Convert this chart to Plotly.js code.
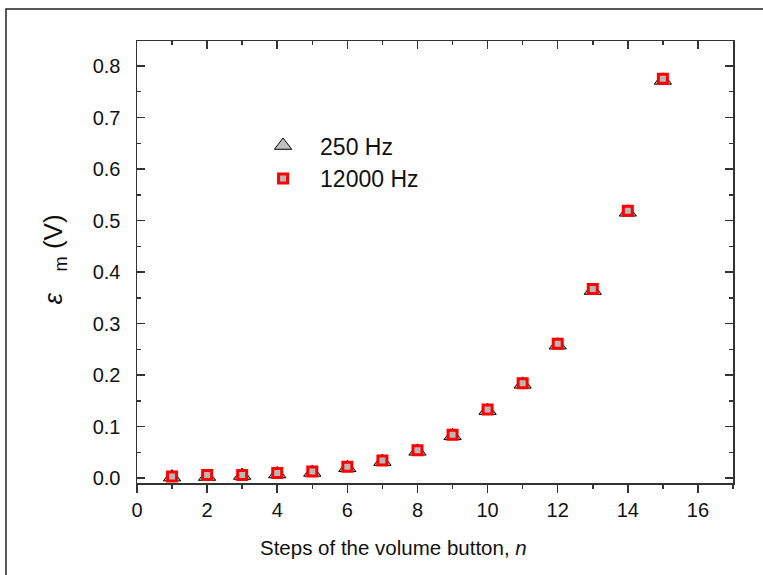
<!DOCTYPE html>
<html>
<head>
<meta charset="utf-8">
<script src="https://cdn.plot.ly/plotly-3.0.1.min.js"></script>
<style>
  html, body { margin: 0; padding: 0; background: #fff; }
  #chart { width: 763px; height: 575px; }
</style>
</head>
<body>
<div id="chart"></div>
<script>
// Data
const steps = [1, 2, 3, 4, 5, 6, 7, 8, 9, 10, 11, 12, 13, 14, 15];
const emf250 = [0.002, 0.003, 0.005, 0.008, 0.011, 0.020, 0.032, 0.052, 0.082, 0.131, 0.182, 0.258, 0.364, 0.516, 0.772];
const emf12000 = [0.003, 0.006, 0.006, 0.010, 0.013, 0.022, 0.034, 0.054, 0.084, 0.133, 0.184, 0.261, 0.367, 0.519, 0.775];
const seriesNames = ['250 Hz', '12000 Hz'];
const xTitle = 'Steps of the volume button, <i>n</i>';
const yTitle = '<i>ε</i>&nbsp;&nbsp;&nbsp;<sub>m</sub>&nbsp;(V)';

const FONT = 'Liberation Sans, Arial, sans-serif';
const AX = '#333333';

const traces = [
  {
    x: steps, y: emf250, name: seriesNames[0], type: 'scatter', mode: 'markers',
    marker: { symbol: 'triangle-up', size: 15, color: '#c0c0c0', line: { color: '#000', width: 1 } }
  },
  {
    x: steps, y: emf12000, name: seriesNames[1], type: 'scatter', mode: 'markers',
    marker: { symbol: 'square', size: 9, color: '#b8b8b8', line: { color: '#ff0000', width: 3 } }
  },
  { x: [], y: [], xaxis: 'x2', yaxis: 'y', showlegend: false, hoverinfo: 'skip' }
];

const layout = {
  width: 763, height: 575,
  margin: { l: 137, r: 30, t: 41, b: 92 },
  paper_bgcolor: '#fff', plot_bgcolor: '#fff',
  font: { family: FONT, color: '#111' },
  showlegend: true,
  legend: {
    x: 0.183, y: 0.812, xanchor: 'left', yanchor: 'top',
    bgcolor: 'rgba(0,0,0,0)', borderwidth: 0,
    font: { family: FONT, size: 23, color: '#111' },
    itemwidth: 64
  },
  xaxis: {
    range: [0, 17], dtick: 2, tick0: 0,
    showline: true, linecolor: AX, linewidth: 1.5,
    ticks: 'outside', ticklen: 8, tickwidth: 1.5, tickcolor: AX,
    minor: { dtick: 1, ticks: 'outside', ticklen: 4, tickwidth: 1.5, tickcolor: AX },
    showgrid: false, zeroline: false,
    tickfont: { family: FONT, size: 20, color: '#111' }
  },
  xaxis2: {
    overlaying: 'x', matches: 'x', side: 'top', anchor: 'y',
    range: [0, 17], dtick: 2, tick0: 0,
    showline: true, linecolor: AX, linewidth: 1.5,
    ticks: 'inside', ticklen: 8, tickwidth: 1.5, tickcolor: AX,
    minor: { dtick: 1, ticks: 'inside', ticklen: 4, tickwidth: 1.5, tickcolor: AX },
    showticklabels: false, showgrid: false, zeroline: false
  },
  yaxis: {
    range: [-0.0095, 0.8485], dtick: 0.1, tick0: 0, tickformat: '.1f',
    showline: true, linecolor: AX, linewidth: 1.5, mirror: 'ticks',
    ticks: 'inside', ticklen: 8, tickwidth: 1.5, tickcolor: AX,
    minor: { dtick: 0.05, ticks: 'inside', ticklen: 4, tickwidth: 1.5, tickcolor: AX },
    showgrid: false, zeroline: false,
    ticklabelstandoff: 11,
    tickfont: { family: FONT, size: 20, color: '#111' }
  },
  annotations: [
    {
      text: xTitle, xref: 'paper', yref: 'paper', x: 0.431, y: -0.147,
      xanchor: 'center', yanchor: 'middle', showarrow: false,
      font: { family: FONT, size: 20.5, color: '#111' }
    },
    {
      text: yTitle, xref: 'paper', yref: 'paper', x: -0.138, y: 0.505,
      xanchor: 'center', yanchor: 'middle', showarrow: false, textangle: -90,
      font: { family: FONT, size: 26, color: '#111' }
    }
  ],
  shapes: [
    {
      type: 'rect', xref: 'paper', yref: 'paper',
      x0: -0.2198, x1: 1.2, y0: -0.25, y1: 1.0724,
      line: { color: '#222', width: 1.5 }, fillcolor: 'rgba(0,0,0,0)', layer: 'below'
    }
  ]
};

Plotly.newPlot('chart', traces, layout, { displayModeBar: false, staticPlot: true });
</script>
</body>
</html>
